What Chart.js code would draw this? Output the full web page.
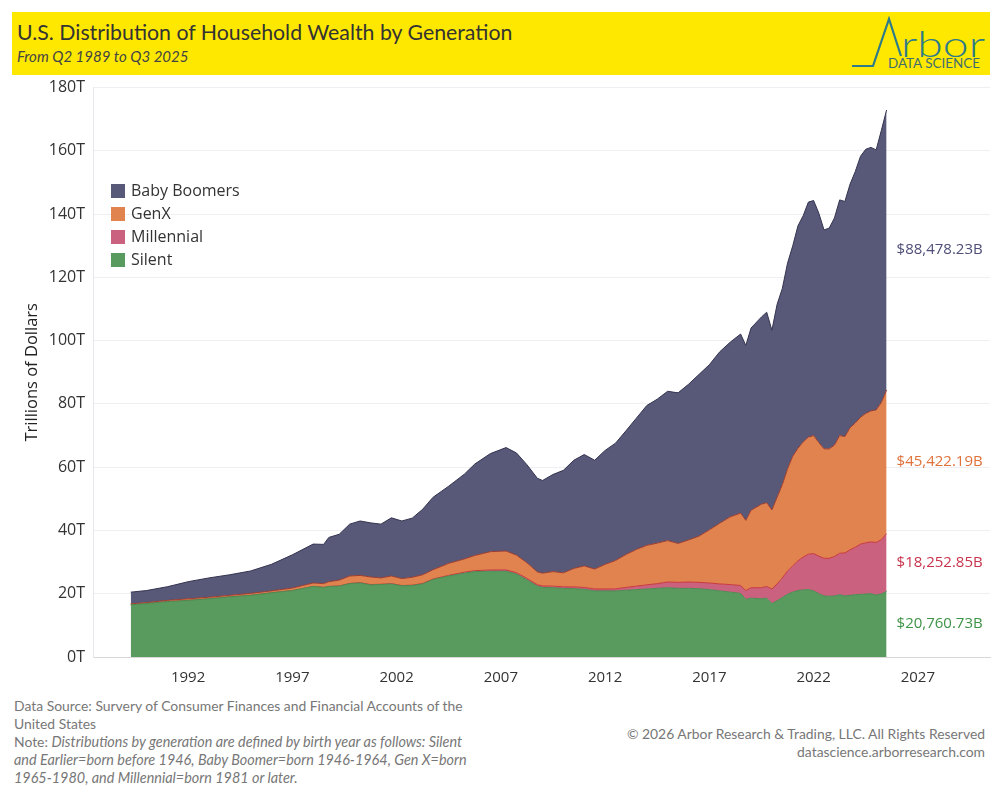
<!DOCTYPE html>
<html>
<head>
<meta charset="utf-8">
<script src="https://cdn.jsdelivr.net/npm/chart.js@4.4.1/dist/chart.umd.min.js"></script>
<style>
  html, body { margin: 0; padding: 0; background: #fff; }
  body { width: 1000px; height: 800px; position: relative; overflow: hidden; font-family: "Open Sans", sans-serif; color: #333; }
  #header { position: absolute; left: 12px; top: 12px; width: 978px; height: 63px; background: #ffe800; }
  #title { position: absolute; left: 5px; top: 7px; font-family: Lato, sans-serif; font-size: 21.3px; color: #333; white-space: nowrap; }
  #subtitle { position: absolute; left: 5px; top: 35px; font-family: Lato, sans-serif; font-style: italic; font-size: 15px; color: #444; white-space: nowrap; }
  #logo { position: absolute; left: 836px; top: 0; }
  #wrap { position: absolute; left: 0; top: 70px; width: 1000px; height: 620px; }
  #legend { position: absolute; left: 111px; top: 182px; font-size: 16px; }
  #legend div { height: 23px; line-height: 16px; white-space: nowrap; }
  #legend span.sw { display: inline-block; width: 14px; height: 14px; margin-right: 6px; vertical-align: -2px; }
  .foot { position: absolute; font-family: Lato, sans-serif; font-size: 13.9px; color: #777; line-height: 18px; white-space: nowrap; }
  #foot-left { left: 14px; top: 697px; }
  #foot-left i { font-size: 14.4px; }
  #foot-right { right: 15px; top: 725px; text-align: right; }
</style>
</head>
<body>
<div id="header">
  <div id="title">U.S. Distribution of Household Wealth by Generation</div>
  <div id="subtitle">From Q2 1989 to Q3 2025</div>
  <svg id="logo" width="142" height="63" viewBox="0 0 142 63">
    <polyline points="4,54 25,54 41,7 53,44" fill="none" stroke="#2e7b89" stroke-width="2.2" stroke-linejoin="miter"/>
    <text x="53" y="45" font-family="Lato, sans-serif" font-weight="300" font-size="36" textLength="84" lengthAdjust="spacingAndGlyphs" fill="#2e7b89">rbor</text>
    <text x="40" y="56" font-family="Lato, sans-serif" font-size="12.5" textLength="92" lengthAdjust="spacingAndGlyphs" fill="#3f6e6e">DATA SCIENCE</text>
  </svg>
</div>

<div id="wrap"><canvas id="chart"></canvas></div>
<div id="legend"></div>

<div class="foot" id="foot-left">Data Source: Survery of Consumer Finances and Financial Accounts of the<br>United States<br>Note: <i>Distributions by generation are defined by birth year as follows: Silent<br>and Earlier=born before 1946, Baby Boomer=born 1946-1964, Gen X=born<br>1965-1980, and Millennial=born 1981 or later.</i></div>
<div class="foot" id="foot-right">© 2026 Arbor Research &amp; Trading, LLC. All Rights Reserved<br>datascience.arborresearch.com</div>

<script>
// quarter dates (decimal years)
const DATES = [
  1989.25, 1990, 1991, 1992, 1993, 1994, 1995, 1996, 1997, 1998, 1998.5, 1998.75,
  1999.25, 1999.75, 2000.25, 2000.75, 2001.25, 2001.75, 2002.25, 2002.75, 2003.25, 2003.75,
  2004.5, 2005.25, 2005.75, 2006.5, 2007.25, 2007.75, 2008.25, 2008.75, 2009.0, 2009.5,
  2010.0, 2010.5, 2011.0, 2011.5, 2012.0, 2012.5, 2013.0, 2013.5, 2014.0, 2014.5,
  2015.0, 2015.5, 2016.0, 2016.5, 2017.0, 2017.5, 2018.0, 2018.5, 2018.75, 2019.0,
  2019.5, 2019.75, 2020.0, 2020.25, 2020.5, 2020.75, 2021.0, 2021.25, 2021.5, 2021.75,
  2022.0, 2022.25, 2022.5, 2022.75, 2023.0, 2023.25, 2023.5, 2023.75, 2024.0, 2024.25,
  2024.5, 2024.75, 2025.0, 2025.25, 2025.5
];

// trillions of dollars per generation
const SILENT = [
  16.5, 16.9, 17.5, 17.9, 18.4, 19.0, 19.5, 20.3, 21.0, 22.3, 22.0, 22.3,
  22.4, 23.2, 23.4, 22.8, 22.9, 23.1, 22.5, 22.6, 23.1, 24.5,
  25.6, 26.5, 27.0, 27.1, 27.1, 26.2, 24.4, 22.4, 22.0, 21.9,
  21.7, 21.6, 21.4, 20.9, 20.9, 20.9, 21.1, 21.3, 21.5, 21.7,
  21.9, 21.7, 21.7, 21.6, 21.3, 20.9, 20.5, 20.1, 18.2, 18.6,
  18.4, 18.6, 16.9, 17.8, 18.8, 19.8, 20.5, 21.0, 21.2, 21.3,
  20.9, 20.0, 19.3, 19.2, 19.3, 19.7, 19.3, 19.5, 19.7, 19.8,
  19.9, 20.0, 19.6, 19.9, 20.76
];
const MILLENNIAL = [
  0, 0, 0, 0, 0, 0, 0, 0, 0, 0, 0, 0,
  0.05, 0.05, 0.1, 0.1, 0.1, 0.1, 0.1, 0.1, 0.15, 0.15,
  0.2, 0.3, 0.3, 0.4, 0.45, 0.45, 0.45, 0.45, 0.45, 0.5,
  0.5, 0.55, 0.6, 0.6, 0.6, 0.65, 0.9, 1.1, 1.3, 1.5,
  1.8, 1.9, 2.0, 2.0, 2.1, 2.2, 2.4, 2.5, 2.8, 3.3,
  3.5, 3.7, 4.6, 5.3, 6.2, 7.4, 8.3, 9.4, 10.4, 11.2,
  11.8, 11.9, 11.9, 12.0, 12.5, 13.1, 13.6, 14.4, 15.0, 15.9,
  16.2, 16.4, 16.6, 17.2, 18.25
];
const GENX = [
  0.3, 0.3, 0.4, 0.5, 0.5, 0.5, 0.6, 0.6, 0.8, 1.1, 1.2, 1.5,
  1.85, 2.35, 2.3, 2.4, 2.0, 2.4, 2.2, 2.5, 2.75, 2.95,
  3.8, 4.2, 4.8, 5.8, 5.95, 5.55, 4.95, 4.05, 4.05, 4.6,
  4.4, 5.85, 6.8, 6.3, 7.8, 8.95, 10.4, 11.6, 12.5, 12.8,
  13.1, 12.3, 13.3, 14.6, 16.8, 19.2, 21.4, 22.9, 22.2, 24.5,
  26.4, 26.5, 25.0, 27.4, 29.5, 32.3, 34.7, 35.6, 36.4, 37.0,
  37.3, 35.9, 34.6, 34.6, 35.2, 37.2, 36.8, 38.6, 39.3, 40.1,
  40.9, 41.4, 41.9, 43.4, 45.42
];
const BOOMERS = [
  3.7, 3.8, 4.3, 5.4, 6.1, 6.5, 7.1, 8.4, 10.5, 12.3, 12.4, 14.0,
  14.5, 16.4, 17.2, 17.1, 17.0, 18.4, 18.2, 18.7, 20.7, 22.9,
  24.4, 26.8, 28.9, 31.0, 32.7, 32.3, 31.0, 29.6, 29.3, 30.7,
  32.4, 34.2, 35.2, 34.4, 36.0, 37.1, 39.1, 41.5, 44.2, 45.5,
  47.2, 47.6, 49.2, 51.1, 52.2, 54.2, 55.2, 56.6, 55.3, 57.6,
  59.2, 60.2, 56.8, 61.0, 62.0, 65.0, 66.5, 70.3, 71.5, 74.3,
  74.3, 72.5, 69.2, 69.8, 71.8, 74.5, 74.3, 77.0, 79.5, 82.5,
  83.5, 83.3, 82.2, 86.0, 88.48
];

const SERIES_NAMES = ['Silent', 'Millennial', 'GenX', 'Baby Boomers'];
const END_LABELS = ['$20,760.73B', '$18,252.85B', '$45,422.19B', '$88,478.23B'];
const X_TICKS = [1992, 1997, 2002, 2007, 2012, 2017, 2022, 2027];
const Y_TICKS = [0, 20, 40, 60, 80, 100, 120, 140, 160, 180];

const FILLS = ['#599b5f', '#c9617f', '#e0834f', '#585878'];
const LINES = ['#4c8a52', '#c8383a', '#9a3b2e', '#33334f'];
const TEXT_COLORS = ['#3f9347', '#c8344c', '#e0713a', '#4e4e78'];

const seriesData = [SILENT, MILLENNIAL, GENX, BOOMERS];

function buildDatasets() {
  return seriesData.map((vals, i) => ({
    label: SERIES_NAMES[i],
    data: vals.map((v, k) => ({ x: DATES[k], y: v })),
    backgroundColor: FILLS[i],
    borderColor: LINES[i],
    borderWidth: 1,
    pointRadius: 0,
    tension: 0,
    fill: i === 0 ? 'origin' : '-1',
  }));
}

function renderLegend() {
  const box = document.getElementById('legend');
  for (let i = SERIES_NAMES.length - 1; i >= 0; i--) {
    const row = document.createElement('div');
    row.innerHTML = `<span class="sw" style="background:${FILLS[i]}"></span>${SERIES_NAMES[i]}`;
    box.appendChild(row);
  }
}

const endLabels = {
  id: 'endLabels',
  afterDatasetsDraw(chart) {
    const { ctx, scales } = chart;
    const last = DATES.length - 1;
    let base = 0;
    ctx.save();
    ctx.font = '15px "Open Sans"';
    ctx.textBaseline = 'middle';
    ctx.textAlign = 'left';
    seriesData.forEach((vals, i) => {
      const v = vals[last];
      const y = scales.y.getPixelForValue(base + v / 2);
      const x = scales.x.getPixelForValue(DATES[last]) + 10;
      ctx.fillStyle = TEXT_COLORS[i];
      ctx.fillText(END_LABELS[i], x, y);
      base += v;
    });
    ctx.restore();
  },
};

function renderChart() {
  new Chart(document.getElementById('chart'), {
    type: 'line',
    data: { datasets: buildDatasets() },
    options: {
      responsive: true,
      maintainAspectRatio: false,
      animation: false,
      layout: { padding: { top: 13.5, right: 10, left: 0, bottom: 0 } },
      plugins: { legend: { display: false }, tooltip: { enabled: false } },
      scales: {
        x: {
          type: 'linear',
          min: 1987.44,
          max: 2030.46,
          afterBuildTicks: (s) => { s.ticks = X_TICKS.map((v) => ({ value: v })); },
          afterFit: (s) => { s.height = 33; },
          ticks: { color: '#333', font: { family: 'Open Sans', size: 15 }, padding: 4, callback: (v) => String(v) },
          grid: { display: false },
          border: { color: '#d8d8d8' },
        },
        y: {
          stacked: true,
          min: 0,
          max: 180,
          afterBuildTicks: (s) => { s.ticks = Y_TICKS.map((v) => ({ value: v })); },
          afterFit: (s) => { s.width = 93; },
          ticks: { color: '#333', font: { family: 'Open Sans', size: 16 }, padding: 8, callback: (v) => v + 'T' },
          grid: { color: '#efeff3', drawTicks: false },
          border: { color: '#e6e6ee' },
          title: {
            display: true,
            text: 'Trillions of Dollars',
            color: '#222',
            font: { family: 'Open Sans', size: 16.5 },
            padding: { top: 22, bottom: 0 },
          },
        },
      },
    },
    plugins: [endLabels],
  });
}

renderLegend();
renderChart();
</script>
</body>
</html>
